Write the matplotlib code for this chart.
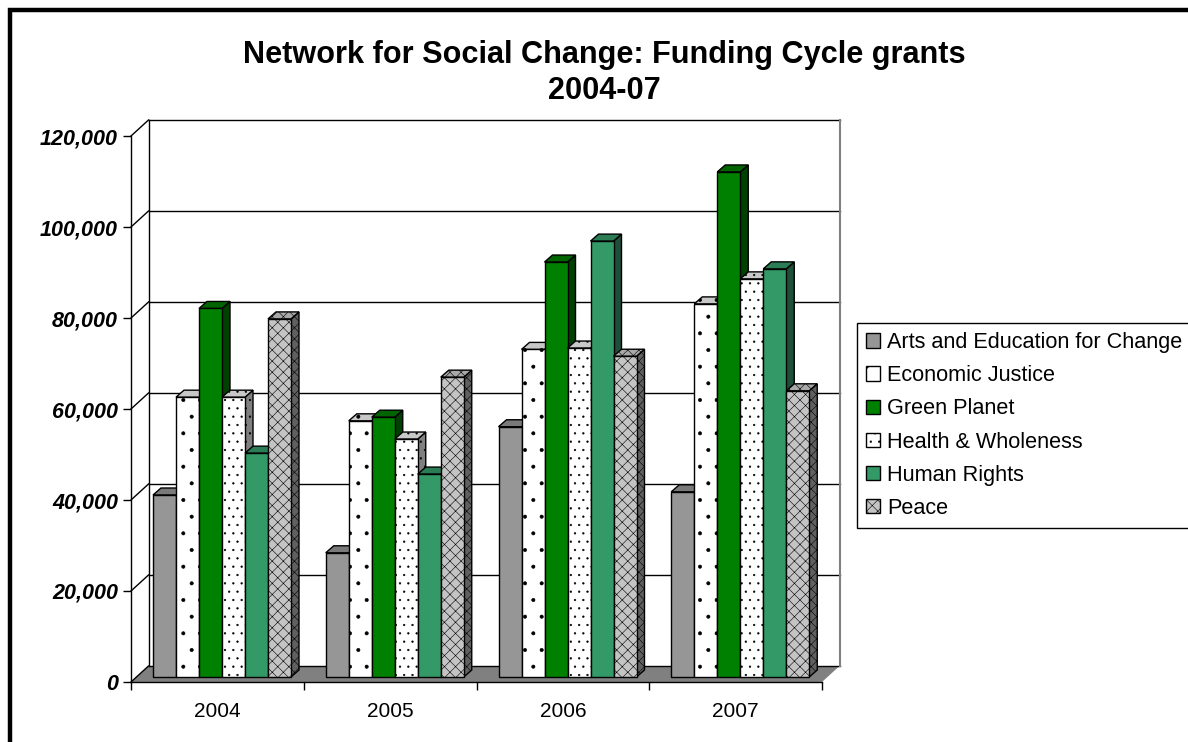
import matplotlib
matplotlib.use('Agg')
import matplotlib.pyplot as plt
from matplotlib.patches import Rectangle

plt.rcParams['font.family'] = ['Liberation Sans', 'DejaVu Sans']
plt.rcParams['hatch.linewidth'] = 0.4

years = ['2004', '2005', '2006', '2007']
series_names = ['Arts and Education for Change', 'Economic Justice', 'Green Planet',
                'Health & Wholeness', 'Human Rights', 'Peace']

arts = [40000, 27300, 55000, 40700]
economic = [61500, 56300, 72000, 82000]
green = [81000, 57100, 91200, 111000]
health = [61500, 52300, 72300, 87500]
human = [49200, 44600, 95800, 89700]
peace = [78700, 65900, 70500, 62900]
all_series = [arts, economic, green, health, human, peace]

y_ticks = [0, 20000, 40000, 60000, 80000, 100000, 120000]

# face, top, side colours and hatch for each series
faces = ['#969696', '#ffffff', '#008000', '#ffffff', '#339966', '#c4c4c4']
tops = ['#7a7a7a', '#c8c8c8', '#006400', '#c8c8c8', '#2a7d54', '#a8a8a8']
sides = ['#4d4d4d', '#808080', '#004000', '#808080', '#1f4f38', '#606060']
hatches = [None, '.', None, '..', None, 'xxx']

W, H = 1188, 742
fig = plt.figure(figsize=(W / 100, H / 100), dpi=100)
fig.patch.set_facecolor('white')

# outer chart border
fig.add_artist(Rectangle((10.3 / W, -0.02), 1.1, 1.02 - 10 / H, transform=fig.transFigure,
                         fill=False, edgecolor='black', linewidth=3.2))

ax = fig.add_axes([131 / W, 1 - 682 / H, 691 / W, 546 / H])
ax.set_xlim(0, 4)
ax.set_ylim(0, 120000)
ax.patch.set_visible(False)

# pixel sizes turned into data units
px_x = 4 / 691
px_y = 120000 / 546
wall_dx, wall_dy = 17.5 * px_x, 16 * px_y
bar_dx, bar_dy = 8 * px_x, 7 * px_y
front_dx, front_dy = 22 * px_x, 5 * px_y
bar_w = 23 * px_x

# floor and walls
ax.fill([0, wall_dx, 4 + wall_dx, 4], [0, wall_dy, wall_dy, 0], color='#808080',
        clip_on=False, zorder=1, linewidth=0)
for v in y_ticks:
    ax.plot([wall_dx, 4 + wall_dx], [v + wall_dy] * 2, color='black', lw=1, clip_on=False, zorder=1.5)
    ax.plot([0, wall_dx], [v, v + wall_dy], color='black', lw=1, clip_on=False, zorder=1.5)
ax.plot([wall_dx] * 2, [wall_dy, 120000 + wall_dy], color='black', lw=1, clip_on=False, zorder=1.5)
ax.plot([4 + wall_dx] * 2, [wall_dy, 120000 + wall_dy], color='#808080', lw=1.5, clip_on=False, zorder=1.5)

# bars, drawn left to right so later ones overlap
handles = []
for s, vals in enumerate(all_series):
    for g, v in enumerate(vals):
        x0 = g + front_dx + s * bar_w
        x1 = x0 + bar_w
        ax.fill([x1, x1 + bar_dx, x1 + bar_dx, x1],
                [front_dy, front_dy + bar_dy, front_dy + v + bar_dy, front_dy + v],
                facecolor=sides[s], edgecolor='black', lw=1, hatch=hatches[s],
                clip_on=False, zorder=3 + s)
        ax.fill([x0, x0 + bar_dx, x1 + bar_dx, x1],
                [front_dy + v, front_dy + v + bar_dy, front_dy + v + bar_dy, front_dy + v],
                facecolor=tops[s], edgecolor='black', lw=1, hatch=hatches[s],
                clip_on=False, zorder=3 + s)
    bars = ax.bar([g + front_dx + s * bar_w for g in range(4)], vals, bar_w, bottom=front_dy,
                  align='edge', color=faces[s], edgecolor='black', linewidth=1,
                  hatch=hatches[s], label=series_names[s], zorder=3 + s)
    for b in bars:
        b.set_clip_on(False)
    handles.append(bars)

# axes
for side in ['top', 'right']:
    ax.spines[side].set_visible(False)
for side in ['left', 'bottom']:
    ax.spines[side].set_linewidth(1)
    ax.spines[side].set_zorder(2)
ax.set_yticks(y_ticks)
ax.set_yticklabels([f'{v:,}' for v in y_ticks], fontsize=15.5, fontweight='bold', fontstyle='italic')
ax.set_xticks(range(5))
ax.set_xticklabels([])
ax.set_xticks([i + 0.5 for i in range(4)], minor=True)
ax.set_xticklabels(years, minor=True, fontsize=15)
ax.tick_params(axis='x', which='minor', length=0, pad=14.7)
ax.tick_params(axis='x', which='major', length=6, width=1)
ax.tick_params(axis='y', length=6, width=1, pad=3.4)

fig.text(604 / W, 1 - 55 / H, 'Network for Social Change: Funding Cycle grants', ha='center', va='center',
         fontsize=22.1, fontweight='bold')
fig.text(604 / W, 1 - 91 / H, '2004-07', ha='center', va='center', fontsize=22.1, fontweight='bold')

leg = ax.legend(handles, series_names, loc='upper left', bbox_to_anchor=(857 / W, 1 - 323 / H),
                bbox_transform=fig.transFigure, fontsize=15.6, frameon=True, fancybox=False,
                edgecolor='black', framealpha=1, handlelength=0.65, handleheight=0.65,
                handletextpad=0.32, labelspacing=0.56, borderpad=0.42, borderaxespad=0)
leg.get_frame().set_linewidth(1)
leg.set_zorder(20)

fig.savefig('out.png', dpi=100)
